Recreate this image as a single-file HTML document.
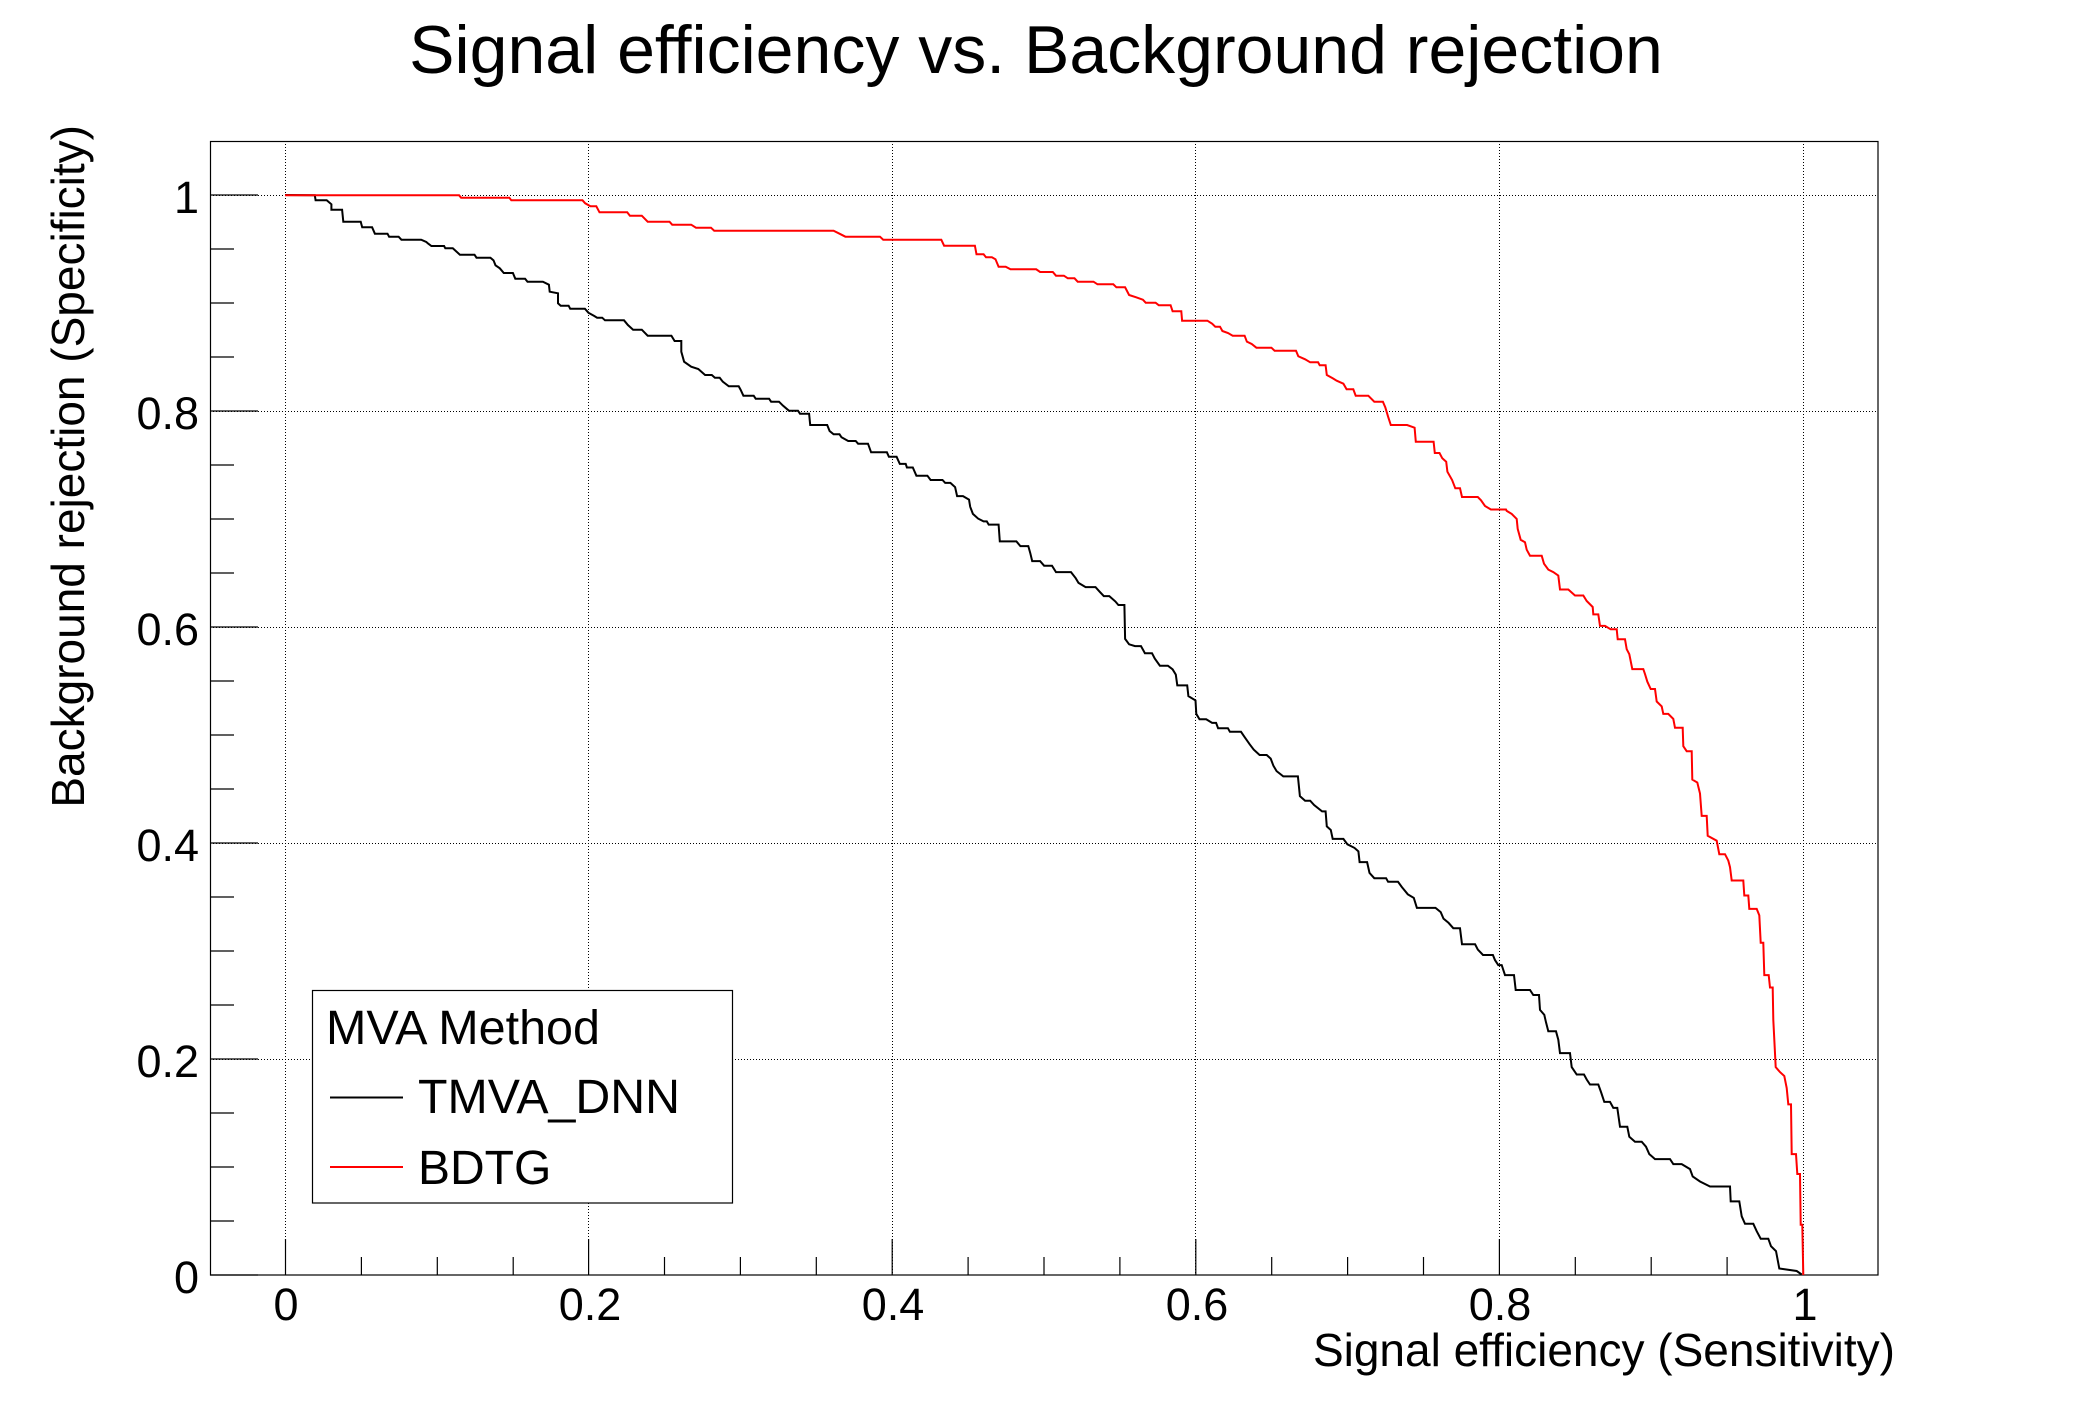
<!DOCTYPE html>
<html>
<head>
<meta charset="utf-8">
<style>
  html, body { margin:0; padding:0; background:#fff; }
  svg { display:block; }
  text { font-family: "Liberation Sans", Arial, sans-serif; fill:#000; }
</style>
</head>
<body>
<svg width="2088" height="1416" viewBox="0 0 2088 1416" xmlns="http://www.w3.org/2000/svg">
  <rect x="0" y="0" width="2088" height="1416" fill="#fff"/>

  <!-- Title -->
  <text x="1036" y="73" font-size="68" text-anchor="middle">Signal efficiency vs. Background rejection</text>

  <!-- Grid -->
  <g stroke="#000" stroke-width="1" stroke-dasharray="1 2" fill="none">
    <line x1="285.5" y1="141" x2="285.5" y2="1275"/>
    <line x1="588.5" y1="141" x2="588.5" y2="1275"/>
    <line x1="892.5" y1="141" x2="892.5" y2="1275"/>
    <line x1="1195.5" y1="141" x2="1195.5" y2="1275"/>
    <line x1="1499.5" y1="141" x2="1499.5" y2="1275"/>
    <line x1="1803.5" y1="141" x2="1803.5" y2="1275"/>
    <line x1="210" y1="195.5" x2="1878" y2="195.5"/>
    <line x1="210" y1="411.5" x2="1878" y2="411.5"/>
    <line x1="210" y1="627.5" x2="1878" y2="627.5"/>
    <line x1="210" y1="843.5" x2="1878" y2="843.5"/>
    <line x1="210" y1="1059.5" x2="1878" y2="1059.5"/>
  </g>

  <!-- Frame -->
  <rect x="210.5" y="141.5" width="1667.5" height="1133.5" fill="none" stroke="#000" stroke-width="1.2"/>

  <!-- X ticks -->
  <g stroke="#000" stroke-width="1.2">
    <line x1="285.5" y1="1275" x2="285.5" y2="1239"/>
    <line x1="361.4" y1="1275" x2="361.4" y2="1257"/>
    <line x1="437.3" y1="1275" x2="437.3" y2="1257"/>
    <line x1="513.2" y1="1275" x2="513.2" y2="1257"/>
    <line x1="588.6" y1="1275" x2="588.6" y2="1239"/>
    <line x1="664.5" y1="1275" x2="664.5" y2="1257"/>
    <line x1="740.4" y1="1275" x2="740.4" y2="1257"/>
    <line x1="816.3" y1="1275" x2="816.3" y2="1257"/>
    <line x1="892.2" y1="1275" x2="892.2" y2="1239"/>
    <line x1="968.1" y1="1275" x2="968.1" y2="1257"/>
    <line x1="1044" y1="1275" x2="1044" y2="1257"/>
    <line x1="1119.9" y1="1275" x2="1119.9" y2="1257"/>
    <line x1="1195.8" y1="1275" x2="1195.8" y2="1239"/>
    <line x1="1271.7" y1="1275" x2="1271.7" y2="1257"/>
    <line x1="1347.6" y1="1275" x2="1347.6" y2="1257"/>
    <line x1="1423.5" y1="1275" x2="1423.5" y2="1257"/>
    <line x1="1499.4" y1="1275" x2="1499.4" y2="1239"/>
    <line x1="1575.3" y1="1275" x2="1575.3" y2="1257"/>
    <line x1="1651.2" y1="1275" x2="1651.2" y2="1257"/>
    <line x1="1727.1" y1="1275" x2="1727.1" y2="1257"/>
    <line x1="1803" y1="1275" x2="1803" y2="1239"/>
  </g>

  <!-- Y ticks -->
  <g stroke="#000" stroke-width="1.2">
    <line x1="210" y1="1275" x2="258" y2="1275"/>
    <line x1="210" y1="1221" x2="234" y2="1221"/>
    <line x1="210" y1="1167" x2="234" y2="1167"/>
    <line x1="210" y1="1113" x2="234" y2="1113"/>
    <line x1="210" y1="1059" x2="258" y2="1059"/>
    <line x1="210" y1="1005" x2="234" y2="1005"/>
    <line x1="210" y1="951" x2="234" y2="951"/>
    <line x1="210" y1="897" x2="234" y2="897"/>
    <line x1="210" y1="843" x2="258" y2="843"/>
    <line x1="210" y1="789" x2="234" y2="789"/>
    <line x1="210" y1="735" x2="234" y2="735"/>
    <line x1="210" y1="681" x2="234" y2="681"/>
    <line x1="210" y1="627" x2="258" y2="627"/>
    <line x1="210" y1="573" x2="234" y2="573"/>
    <line x1="210" y1="519" x2="234" y2="519"/>
    <line x1="210" y1="465" x2="234" y2="465"/>
    <line x1="210" y1="411" x2="258" y2="411"/>
    <line x1="210" y1="357" x2="234" y2="357"/>
    <line x1="210" y1="303" x2="234" y2="303"/>
    <line x1="210" y1="249" x2="234" y2="249"/>
    <line x1="210" y1="195" x2="258" y2="195"/>
  </g>

  <!-- X tick labels -->
  <g font-size="45" text-anchor="middle">
    <text x="286" y="1320">0</text>
    <text x="590" y="1320">0.2</text>
    <text x="893" y="1320">0.4</text>
    <text x="1197" y="1320">0.6</text>
    <text x="1500" y="1320">0.8</text>
    <text x="1805" y="1320">1</text>
  </g>

  <!-- Y tick labels -->
  <g font-size="45" text-anchor="end">
    <text x="199" y="1293">0</text>
    <text x="199" y="1077">0.2</text>
    <text x="199" y="861">0.4</text>
    <text x="199" y="645">0.6</text>
    <text x="199" y="429">0.8</text>
    <text x="199" y="213">1</text>
  </g>

  <!-- Axis titles -->
  <text x="1895" y="1366" font-size="46" text-anchor="end">Signal efficiency (Sensitivity)</text>
  <text transform="translate(84,125) rotate(-90)" font-size="46" text-anchor="end">Background rejection (Specificity)</text>

  <!-- TMVA_DNN (black) -->
  <polyline fill="none" stroke="#000" stroke-width="2" stroke-linejoin="miter" points="
    285,195 314.8,195.3 315.6,200.3 326.7,200.3 331.4,204.3 331.4,209.7 342.1,209.7 343.3,221.7 360.7,221.7 362.2,227.3
    372.1,227.3 374.9,233.7 387.5,233.7 389.1,236.7 398.6,236.7 401.4,239.7 421.2,239.7 426.3,242 428.3,243.7 431.4,246
    444.1,246 445.3,248.3 452.8,248.3 459.9,254.7 474.5,254.7 476.5,257.7 490.4,257.7 493.5,260.3 495.5,265.3 499.8,268.3
    503.8,273 512.9,273 515.3,278.7 525.1,278.7 527.5,281.7 542.9,281.7 548.9,284.7 549.7,291.7 558,293.3 558,303.3
    560.7,305.7 568.6,305.7 570.2,308.7 584.9,308.7 588.4,312.7 594.3,316 597.1,317.7 602.2,317.7 605,320.3 624,320.3
    627.9,325 633.1,329.7 641.8,329.7 647.7,335.7 671.4,335.7 674.6,341 681.3,341 681.3,351.7 684.1,361.7 691.2,366.7
    698.3,369 705.1,375 711.8,375 714.9,377.7 719.7,377.7 722.8,381.7 728.8,386.3 738.7,386.3 740.6,389.7 743.4,395.7
    753.7,395.7 755.7,398.7 769.1,398.7 771.1,401.7 779,401.7 783,405.7 788.9,410.7 798,410.7 800,413.7 809.1,413.7
    810.2,425 827.2,425 829.6,431 833.6,434.3 839.5,434.3 841.5,437.3 848.2,441 855.7,441 858.1,443.7 868,443.7
    871.1,452.3 886.9,452.3 888.9,456.8 896.6,456.8 899.8,463.9 905.7,463.9 906.9,467.5 912.8,467.5 916.4,475.7 927.4,475.7
    930.6,480 942.5,480 945.2,482.9 950.4,482.9 955.1,487.1 957.1,496.1 963,496.1 969,499.6 970.2,506.8 972.9,513.9
    978.1,518.6 983.6,521.4 986.8,521.4 988.7,524.6 998.6,524.6 999.8,541.4 1016.4,541.4 1020.4,546.1 1028.3,546.1 1030.3,553.2
    1032.2,561.1 1040.1,561.1 1044.1,565.7 1052,565.7 1056,572.1 1071,572.1 1075.7,578.2 1078.5,582.9 1085.6,587.1 1095.5,587.1
    1099.4,591.4 1103.8,596.1 1109.3,596.1 1115.3,601.4 1118.4,605 1124.4,605 1125.1,638.9 1129.1,644.3 1135,646.1 1141,646.1
    1144.9,653.2 1152,653.2 1154.8,658.6 1159.9,665.7 1167.9,665.7 1172.6,669.3 1175.8,674.6 1177.3,685.4 1187.2,685.4 1188.4,696.1
    1195.5,700.4 1196.3,713.9 1199.5,719.3 1206.2,719.3 1212.1,722.9 1216.1,722.9 1218.1,728.2 1227.9,728.2 1229.9,731.8 1241,731.8
    1244.6,737.1 1249.7,744.3 1253.7,749.6 1259.6,755 1266.7,755 1270.7,758.6 1273.4,765.7 1276.6,771.1 1283.3,776.4 1297.9,776.4
    1299.9,796.1 1305.1,800.7 1310.2,800.7 1314.1,805 1322.1,811.4 1325.6,811.4 1326.8,826.4 1330.8,830 1332.7,838.9 1343.4,838.9
    1347.4,844.3 1354.5,847.9 1358.4,851.4 1359.6,862.1 1367.1,862.1 1369.5,872.9 1374.3,878.2 1386.1,878.2 1388.1,881.8 1398,881.8
    1401.9,887.1 1407.8,894.3 1413.8,897.9 1416.9,907.9 1435.5,907.9 1440.7,912.1 1443.5,918.6 1448.6,922.9 1453.3,928.2 1460,928.2
    1462,944.3 1475.1,944.3 1477.8,949.6 1483,955 1492.9,955 1495,960.1 1498.3,965.1 1501.7,965.1 1505,975.1 1514,975.1
    1515.7,990 1530,990 1533.3,995 1539,995 1540,1009.9 1544.3,1014.9 1546,1022.3 1548.3,1031.3 1556,1031.3 1558.3,1039.7
    1560,1053.1 1570,1053.1 1571.7,1067.1 1576.7,1074.5 1584,1074.5 1586.7,1079.5 1590,1084.5 1598.3,1084.5 1601,1092 1604.3,1101.9
    1610,1101.9 1613.3,1107.9 1617.3,1107.9 1620,1126.8 1627.3,1126.8 1629.3,1136.7 1635,1141.7 1641.7,1141.7 1646,1146.7 1649.3,1154.1
    1655,1159.1 1670,1159.1 1673.3,1164.1 1681.7,1164.1 1690,1169.1 1692.7,1176.5 1700,1181.5 1710,1186.5 1730,1186.5 1730.7,1201.4
    1739.3,1201.4 1741.7,1216.3 1745,1223.8 1753.3,1223.8 1756.7,1231.2 1760.7,1238.7 1768.3,1238.7 1771,1246.2 1776,1251.1 1779.3,1268.5
    1796.7,1271 1801.7,1274.5"/>

  <!-- BDTG (red) -->
  <polyline fill="none" stroke="#ff0000" stroke-width="2" stroke-linejoin="miter" points="
    285,195.3 459.1,195.3 461.1,197.7 509.3,197.7 511.3,200.3 582.5,200.3 585.2,203.3 590.4,206.3 596.3,206.3 599.5,212.3
    627.2,212.3 629.9,215.7 641.8,215.7 647.7,221.7 669.5,221.7 672.2,224.7 691.2,224.7 696,227.7 711,227.7 714.2,230.7
    833.6,230.7 839.5,233.7 845.4,236.7 880,236.7 883.2,239.7 941.3,239.7 944.1,245.7 974.9,245.7 976.5,254.3 983.6,254.3
    986,257.3 991.9,257.3 995.5,259.3 998.6,266.7 1005.7,266.7 1010.5,269.3 1036.2,269.3 1040.1,272 1052.8,272 1056,275.7
    1063.9,275.7 1067.8,278.3 1074.5,278.3 1077.7,281.7 1093.5,281.7 1097.5,284.3 1113.3,284.3 1116.4,287.3 1125.1,287.3 1129.1,295
    1136.2,297.3 1142.9,299.7 1145.7,302.7 1155.6,302.7 1158.8,305.3 1170.6,305.3 1172.6,311.3 1181.3,311.3 1182.1,320.7 1207.4,320.7
    1212.1,323.7 1215.3,326.7 1220,326.7 1222.4,331 1228,333 1232.7,335.7 1244.6,335.7 1246.9,341.7 1251.7,344 1256.4,347.7
    1271.4,347.7 1274.6,350.7 1296,350.7 1298.3,356.3 1305.1,359.3 1310.2,362.3 1318.1,362.3 1319.7,365.3 1325.6,365.3 1326.8,375
    1332.7,378.3 1336.7,380.7 1343.4,383.7 1346.6,389.3 1353.3,389.3 1355.7,395.7 1368.3,395.7 1374.3,401.7 1382.9,401.7 1385.3,407.3
    1388.1,416.7 1390.8,425 1407.1,425 1414.6,427.7 1415.8,441.7 1433.6,441.7 1434.8,453 1439.5,453 1442.3,458.3 1446.2,461.7
    1447.4,471.7 1452.1,480 1455.3,488.3 1460,488.3 1462,497 1477.8,497 1481,500.3 1485,506 1490.9,509.5 1506,509.5
    1506.7,510.9 1511.7,513.9 1516.7,518.9 1517.7,528.9 1520.7,539.8 1525,542.3 1526.7,549.7 1530,555.7 1541.7,555.7 1544,563.7
    1548.3,569.6 1553.3,572.1 1558.3,575.6 1560,589.5 1568.3,589.5 1575,595.5 1583.3,595.5 1586.7,601 1592.7,607 1593.3,614.4
    1598.3,614.4 1600,625.9 1605,625.9 1610.7,629.3 1616.7,629.3 1617.7,639.3 1625,639.3 1626.7,649.2 1629.3,654.2 1632.3,669.1
    1643.3,669.1 1645,674.1 1647.3,681.6 1650.7,689 1655,689 1656.7,701.5 1661.7,706.4 1663.3,713.9 1668.3,713.9 1673.3,718.9
    1675,727.8 1682.7,727.8 1683.3,746.2 1686.7,751.2 1691.7,751.2 1692.3,779.6 1697.3,782.5 1700,793.5 1701.7,815.9 1706.7,815.9
    1707.7,835.8 1716.7,840.7 1719.3,854.2 1725,854.2 1728.3,860.6 1730,867.1 1731.7,880.5 1743.3,880.5 1744.3,895.5 1748.3,895.5
    1749.3,908.9 1756.7,908.9 1759.3,915.4 1760.7,942.7 1763.3,942.7 1764.3,975.1 1768.7,975.1 1770,987.5 1772.7,987.5 1773.3,1019.8
    1775.7,1067.1 1780,1072.1 1784.3,1076 1786.7,1088 1788.3,1104.4 1791,1104.4 1791.7,1154.1 1796,1154.1 1797.3,1174 1800,1174
    1800.7,1224.8 1802.3,1224.8 1803.3,1275"/>

  <!-- Legend -->
  <rect x="312.5" y="990.5" width="420" height="212.5" fill="#fff" stroke="#000" stroke-width="1.2"/>
  <text x="326" y="1044" font-size="48" textLength="274" lengthAdjust="spacingAndGlyphs">MVA Method</text>
  <line x1="330" y1="1097.5" x2="403" y2="1097.5" stroke="#000" stroke-width="2"/>
  <text x="418" y="1113" font-size="48" textLength="262" lengthAdjust="spacingAndGlyphs">TMVA_DNN</text>
  <line x1="330" y1="1167" x2="403" y2="1167" stroke="#ff0000" stroke-width="2"/>
  <text x="418" y="1184" font-size="48">BDTG</text>
</svg>
</body>
</html>
